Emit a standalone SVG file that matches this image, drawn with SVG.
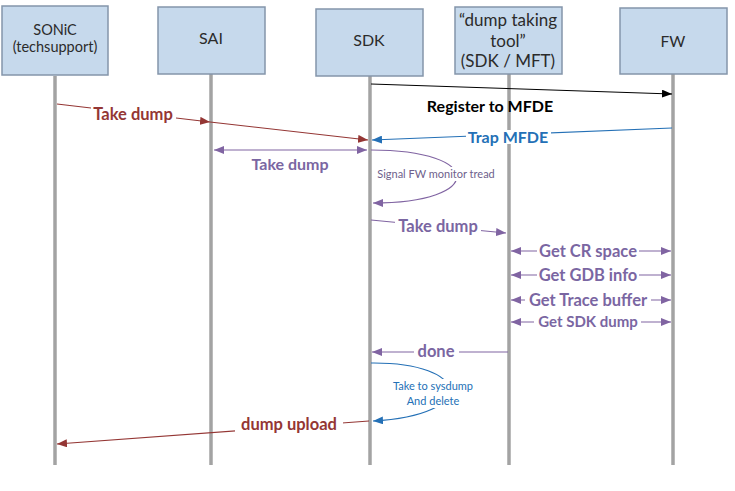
<svg xmlns="http://www.w3.org/2000/svg" width="735" height="491" viewBox="0 0 735 491">
<style>
text{font-family:Lato,"Liberation Sans",sans-serif}
.box{fill:#c6d9ec;stroke:#8495aa;stroke-width:1.5}
.bt{font-size:14px;fill:#2b2b2b;text-anchor:middle}
.life{stroke:#a3a3a3;stroke-width:3.5}
.bg{fill:#fff}
.lbl{font-size:16.5px;font-weight:bold;text-anchor:middle}
.red{fill:#943634}.pur{fill:#7a66a2}.blu{fill:#2470b6}.blk{fill:#000}
.lr{stroke:#943634;stroke-width:1.2;fill:none}
.lp{stroke:#8064a2;stroke-width:1.2;fill:none}
.lb{stroke:#2470b6;stroke-width:1.2;fill:none}
.lk{stroke:#000;stroke-width:1;fill:none}
.sm{font-size:11px;text-anchor:middle}
</style>
<defs>
<marker id="ar" viewBox="0 0 10 8" refX="10" refY="4" markerWidth="10" markerHeight="8" markerUnits="userSpaceOnUse" orient="auto-start-reverse"><path d="M0,0L10,4L0,8z" fill="#943634"/></marker>
<marker id="ap" viewBox="0 0 10 8" refX="10" refY="4" markerWidth="10" markerHeight="8" markerUnits="userSpaceOnUse" orient="auto-start-reverse"><path d="M0,0L10,4L0,8z" fill="#8064a2"/></marker>
<marker id="ab" viewBox="0 0 10 8" refX="10" refY="4" markerWidth="10" markerHeight="8" markerUnits="userSpaceOnUse" orient="auto-start-reverse"><path d="M0,0L10,4L0,8z" fill="#2470b6"/></marker>
<marker id="ak" viewBox="0 0 10 8" refX="10" refY="4" markerWidth="10" markerHeight="8" markerUnits="userSpaceOnUse" orient="auto-start-reverse"><path d="M0,0L10,4L0,8z" fill="#000"/></marker>
</defs>
<rect width="735" height="491" fill="#fff"/>
<g id="lifelines">
<line class="life" x1="55" y1="76" x2="55" y2="465"/>
<line class="life" x1="211" y1="74" x2="211" y2="465"/>
<line class="life" x1="370" y1="76" x2="370" y2="465"/>
<line class="life" x1="509" y1="74" x2="509" y2="465"/>
<line class="life" x1="673" y1="74" x2="673" y2="465"/>
</g>
<g id="node-sonic"><rect class="box" x="2" y="6" width="106" height="69"/><text class="bt" style="font-size:14.5px" x="55" y="35">SONiC</text><text class="bt" style="font-size:14.5px" x="55" y="52">(techsupport)</text></g>
<g id="node-sai"><rect class="box" x="158" y="7" width="107" height="67"/><text class="bt" style="font-size:16px" x="211" y="44">SAI</text></g>
<g id="node-sdk"><rect class="box" x="316" y="9" width="107" height="67"/><text class="bt" style="font-size:16px" x="369" y="46">SDK</text></g>
<g id="node-tool"><rect class="box" x="455" y="7" width="107" height="67"/><text class="bt" style="font-size:17px" x="508" y="26">“dump taking</text><text class="bt" style="font-size:17px" x="508" y="47">tool”</text><text class="bt" style="font-size:17px" x="508" y="67">(SDK / MFT)</text></g>
<g id="node-fw"><rect class="box" x="620" y="8" width="107" height="66"/><text class="bt" style="font-size:15.5px" x="673" y="47">FW</text></g>
<g id="connectors">
<path class="lk" d="M371,84L672,94" marker-end="url(#ak)"/>
<text class="lbl blk" style="font-size:16px" x="490" y="112">Register to MFDE</text>
<path class="lr" d="M57,104L210,122" marker-end="url(#ar)"/>
<path class="lr" d="M210,122L368,140" marker-end="url(#ar)"/>
<rect class="bg" x="91" y="105" width="85" height="18"/>
<text class="lbl red" x="133" y="120">Take dump</text>
<path class="lb" d="M672,128L372,140" marker-end="url(#ab)"/>
<rect class="bg" x="466" y="130" width="85" height="14"/>
<text class="lbl blu" style="font-size:16px" x="508" y="143">Trap MFDE</text>
<path class="lp" d="M214,150L367,150" marker-start="url(#ap)" marker-end="url(#ap)"/>
<text class="lbl pur" style="font-size:16px" x="290" y="170">Take dump</text>
<path class="lp" d="M371,150C485,150 485,203 373,203" marker-end="url(#ap)"/>
<rect class="bg" x="377" y="167" width="119" height="14"/>
<text class="sm" fill="#6e5f8c" x="436" y="178">Signal FW monitor tread</text>
<path class="lp" d="M371,220L506,233" marker-end="url(#ap)"/>
<rect class="bg" x="395" y="217" width="86" height="18"/>
<text class="lbl pur" x="438" y="232">Take dump</text>
<path class="lp" d="M511,251L671,251" marker-start="url(#ap)" marker-end="url(#ap)"/>
<rect class="bg" x="537" y="242" width="102" height="18"/>
<text class="lbl pur" x="588" y="257">Get CR space</text>
<path class="lp" d="M511,275L671,275" marker-start="url(#ap)" marker-end="url(#ap)"/>
<rect class="bg" x="537" y="266" width="102" height="18"/>
<text class="lbl pur" x="588" y="281">Get GDB info</text>
<path class="lp" d="M511,300L671,300" marker-start="url(#ap)" marker-end="url(#ap)"/>
<rect class="bg" x="525" y="291" width="126" height="18"/>
<text class="lbl pur" x="588" y="306">Get Trace buffer</text>
<path class="lp" d="M511,322L671,322" marker-start="url(#ap)" marker-end="url(#ap)"/>
<rect class="bg" x="534" y="313" width="107" height="17"/>
<text class="lbl pur" style="font-size:15px" x="588" y="327">Get SDK dump</text>
<path class="lp" d="M508,352L372,352" marker-end="url(#ap)"/>
<rect class="bg" x="414" y="343" width="45" height="17"/>
<text class="lbl pur" x="436" y="357">done</text>
<path class="lb" d="M371,363C470,362 480,415 373,421" marker-end="url(#ab)"/>
<rect class="bg" x="390" y="379" width="86" height="29"/>
<text class="sm blu" x="433" y="390">Take to sysdump</text>
<text class="sm blu" x="433" y="405">And delete</text>
<path class="lr" d="M369,421L57,444" marker-end="url(#ar)"/>
<rect class="bg" x="235" y="416" width="108" height="18"/>
<text class="lbl red" x="289" y="430">dump upload</text>
</g>
</svg>
